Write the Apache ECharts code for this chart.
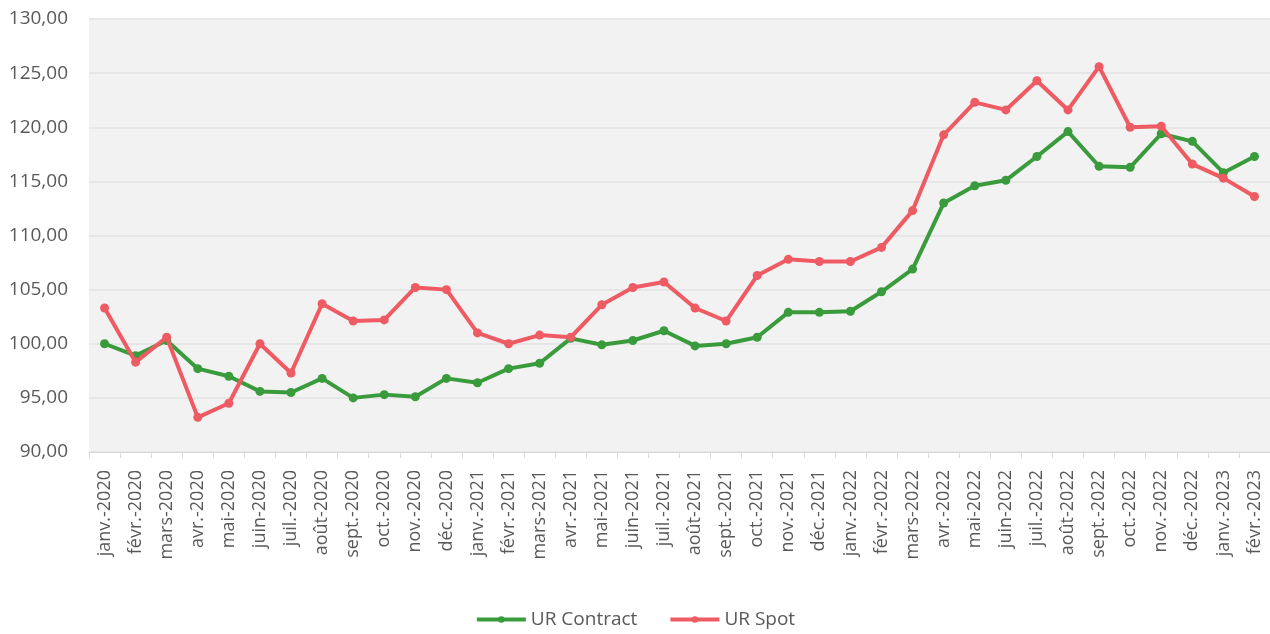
<!DOCTYPE html>
<html>
<head>
<meta charset="utf-8">
<script src="https://cdn.jsdelivr.net/npm/echarts@6/dist/echarts.min.js"></script>
<style>
  html, body { margin: 0; padding: 0; background: #fff; }
  #chart { width: 1270px; height: 634px; }
</style>
</head>
<body>
<div id="chart"></div>
<script>
const months = [
  "janv.-2020", "févr.-2020", "mars-2020", "avr.-2020", "mai-2020", "juin-2020",
  "juil.-2020", "août-2020", "sept.-2020", "oct.-2020", "nov.-2020", "déc.-2020",
  "janv.-2021", "févr.-2021", "mars-2021", "avr.-2021", "mai-2021", "juin-2021",
  "juil.-2021", "août-2021", "sept.-2021", "oct.-2021", "nov.-2021", "déc.-2021",
  "janv.-2022", "févr.-2022", "mars-2022", "avr.-2022", "mai-2022", "juin-2022",
  "juil.-2022", "août-2022", "sept.-2022", "oct.-2022", "nov.-2022", "déc.-2022",
  "janv.-2023", "févr.-2023"
];

const contract = [
  100.0, 98.9, 100.3, 97.7, 97.0, 95.6, 95.5, 96.8, 95.0, 95.3, 95.1, 96.8,
  96.4, 97.7, 98.2, 100.5, 99.9, 100.3, 101.2, 99.8, 100.0, 100.6, 102.9, 102.9,
  103.0, 104.8, 106.9, 113.0, 114.6, 115.1, 117.3, 119.6, 116.4, 116.3, 119.4, 118.7,
  115.8, 117.3
];

const spot = [
  103.3, 98.3, 100.6, 93.2, 94.5, 100.0, 97.3, 103.7, 102.1, 102.2, 105.2, 105.0,
  101.0, 100.0, 100.8, 100.6, 103.6, 105.2, 105.7, 103.3, 102.1, 106.3, 107.8, 107.6,
  107.6, 108.9, 112.3, 119.3, 122.3, 121.6, 124.3, 121.6, 125.6, 120.0, 120.1, 116.6,
  115.3, 113.6
];

const greenColor = "#3a9b3c";
const redColor = "#ee5b63";
const textColor = "#595959";

const chart = echarts.init(document.getElementById("chart"));

chart.setOption({
  animation: false,
  textStyle: { fontFamily: "Open Sans" },
  grid: {
    left: 89,
    right: 0,
    top: 19,
    bottom: 182,
    show: true,
    backgroundColor: "#f2f2f2",
    borderWidth: 0
  },
  legend: {
    bottom: 0,
    left: "center",
    itemWidth: 49,
    itemHeight: 8,
    itemGap: 31,
    lineStyle: { width: 4 },
    textStyle: { color: textColor, fontSize: 19 },
    data: ["UR Contract", "UR Spot"]
  },
  xAxis: {
    type: "category",
    data: months,
    boundaryGap: true,
    axisLine: { lineStyle: { color: "#d9d9d9", width: 1 } },
    axisTick: { show: true, length: 6, lineStyle: { color: "#d9d9d9" } },
    axisLabel: {
      rotate: 90,
      interval: 0,
      color: textColor,
      fontSize: 18,
      margin: 18
    }
  },
  yAxis: {
    type: "value",
    min: 90,
    max: 130,
    interval: 5,
    axisLine: { show: false },
    axisTick: { show: false },
    splitLine: { lineStyle: { color: "#e2e2e2", width: 1.5 } },
    axisLabel: {
      color: textColor,
      fontSize: 19,
      margin: 21,
      formatter: v => v.toFixed(2).replace(".", ",")
    }
  },
  series: [
    {
      name: "UR Contract",
      type: "line",
      data: contract,
      color: greenColor,
      symbol: "circle",
      symbolSize: 9,
      lineStyle: { width: 4 },
      z: 2
    },
    {
      name: "UR Spot",
      type: "line",
      data: spot,
      color: redColor,
      symbol: "circle",
      symbolSize: 9,
      lineStyle: { width: 4 },
      z: 3
    }
  ]
});
</script>
</body>
</html>
